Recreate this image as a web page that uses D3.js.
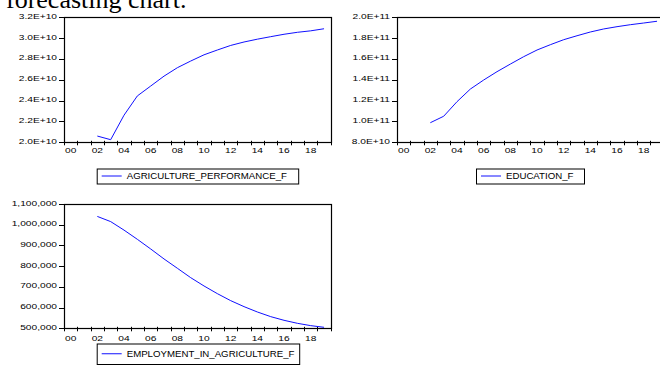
<!DOCTYPE html>
<html>
<head>
<meta charset="utf-8">
<script src="https://cdn.jsdelivr.net/npm/d3@7"></script>
<style>
body{margin:0;background:#fff;overflow:hidden}
svg{display:block}
</style>
</head>
<body>
<div id="chartDiv"></div>
<script>
// forecast years and series
const years = [2002,2003,2004,2005,2006,2007,2008,2009,2010,2011,2012,2013,2014,2015,2016,2017,2018,2019];
const agriPerformance = [2.06e10,2.025e10,2.26e10,2.445e10,2.54e10,2.635e10,2.716e10,2.78e10,2.84e10,2.886e10,2.93e10,2.963e10,2.99e10,3.014e10,3.037e10,3.056e10,3.07e10,3.09e10];
const education = [0.988e11,1.05e11,1.19e11,1.311e11,1.398e11,1.478e11,1.551e11,1.622e11,1.686e11,1.737e11,1.785e11,1.823e11,1.859e11,1.888e11,1.910e11,1.929e11,1.945e11,1.962e11];
const employment = [1040000,1015000,974000,929600,883000,834800,789800,744500,704300,667300,633500,604600,578800,556300,538600,524100,512900,504800];

const xLabels = ["00","02","04","06","08","10","12","14","16","18"];
const agriTicks = [2.0e10,2.2e10,2.4e10,2.6e10,2.8e10,3.0e10,3.2e10];
const agriTickLabels = ["2.0E+10","2.2E+10","2.4E+10","2.6E+10","2.8E+10","3.0E+10","3.2E+10"];
const eduTicks = [0.8e11,1.0e11,1.2e11,1.4e11,1.6e11,1.8e11,2.0e11];
const eduTickLabels = ["8.0E+10","1.0E+11","1.2E+11","1.4E+11","1.6E+11","1.8E+11","2.0E+11"];
const empTicks = [500000,600000,700000,800000,900000,1000000,1100000];
const empTickLabels = ["500,000","600,000","700,000","800,000","900,000","1,000,000","1,100,000"];

const panels = [
    {name:"AGRICULTURE_PERFORMANCE_F", values:agriPerformance, ticks:agriTicks, labels:agriTickLabels,
     left:64, top:17.3, bottom:142.3, labelY:152.5, legend:{x:96.7, y:168.5, w:201.5, h:15}},
    {name:"EDUCATION_F", values:education, ticks:eduTicks, labels:eduTickLabels,
     left:397, top:17.3, bottom:142.3, labelY:152.5, legend:{x:476, y:168.5, w:108, h:15}},
    {name:"EMPLOYMENT_IN_AGRICULTURE_F", values:employment, ticks:empTicks, labels:empTickLabels,
     left:64, top:204, bottom:328.3, labelY:341, legend:{x:96.7, y:343.5, w:202.5, h:20.5}}
];

const W = 660, H = 369, plotW = 266.7;
const tickFont = 6.8, tickStretch = 1.5;
const legFont = 8.4, legStretch = 1.15;

const svg = d3.select('#chartDiv').append('svg')
    .attr('width', W)
    .attr('height', H);

function stretchText(g, x, y, str, anchor, size, sx){
    return g.append('text')
        .attr('transform', `translate(${x},${y}) scale(${sx},1)`)
        .attr('text-anchor', anchor)
        .attr('font-family', 'Liberation Sans, Arial, sans-serif')
        .attr('font-size', size)
        .attr('fill', '#000')
        .text(str);
}

function drawPanel(p){
    const g = svg.append('g');
    const x = d3.scaleLinear().domain([2000, 2020]).range([p.left, p.left + plotW]);
    const y = d3.scaleLinear().domain([p.ticks[0], p.ticks[p.ticks.length - 1]]).range([p.bottom, p.top]);

    // y ticks + labels
    p.ticks.forEach((t, i) => {
        g.append('line')
            .attr('x1', p.left - 5).attr('x2', p.left)
            .attr('y1', Math.round(y(t)) + 0.5).attr('y2', Math.round(y(t)) + 0.5)
            .attr('stroke', '#000').attr('stroke-width', 1);
        stretchText(g, p.left - 7, y(t) + 1.5, p.labels[i], 'end', tickFont, tickStretch);
    });

    // x ticks at every year boundary
    d3.range(2000, 2021).forEach(yr => {
        g.append('line')
            .attr('x1', Math.round(x(yr)) + 0.5).attr('x2', Math.round(x(yr)) + 0.5)
            .attr('y1', p.bottom - 1.5).attr('y2', p.bottom + 3)
            .attr('stroke', '#000').attr('stroke-width', 1);
    });
    xLabels.forEach(lab => {
        const yr = 2000 + (+lab);
        stretchText(g, x(yr + 0.5), p.labelY, lab, 'middle', tickFont, tickStretch);
    });

    // frame
    g.append('rect')
        .attr('x', Math.round(p.left) + 0.5)
        .attr('y', Math.round(p.top) + 0.5)
        .attr('width', Math.round(plotW))
        .attr('height', Math.round(p.bottom) - Math.round(p.top))
        .attr('fill', 'none')
        .attr('stroke', '#000')
        .attr('stroke-width', 1.2);

    // series line
    const line = d3.line()
        .x((d, i) => x(years[i] + 0.5))
        .y(d => y(d));
    g.append('path')
        .datum(p.values)
        .attr('d', line)
        .attr('fill', 'none')
        .attr('stroke', '#1010ff')
        .attr('stroke-width', 1);

    // legend
    const L = p.legend;
    g.append('rect')
        .attr('x', L.x + 0.5).attr('y', L.y + 0.5)
        .attr('width', L.w).attr('height', L.h)
        .attr('fill', '#fff').attr('stroke', '#000').attr('stroke-width', 1);
    const cy = L.y + L.h / 2;
    g.append('line')
        .attr('x1', L.x + 5).attr('x2', L.x + 25)
        .attr('y1', cy).attr('y2', cy)
        .attr('stroke', '#1010ff').attr('stroke-width', 1);
    stretchText(g, L.x + 30, cy + 3, p.name, 'start', legFont, legStretch);
}

// heading text cut off at the top of the picture
svg.append('text')
    .attr('x', 6)
    .attr('y', 7.5)
    .attr('font-family', 'Liberation Serif, serif')
    .attr('font-size', 26)
    .attr('fill', '#000')
    .text('forecasting chart.');

panels.forEach(drawPanel);
</script>
</body>
</html>
